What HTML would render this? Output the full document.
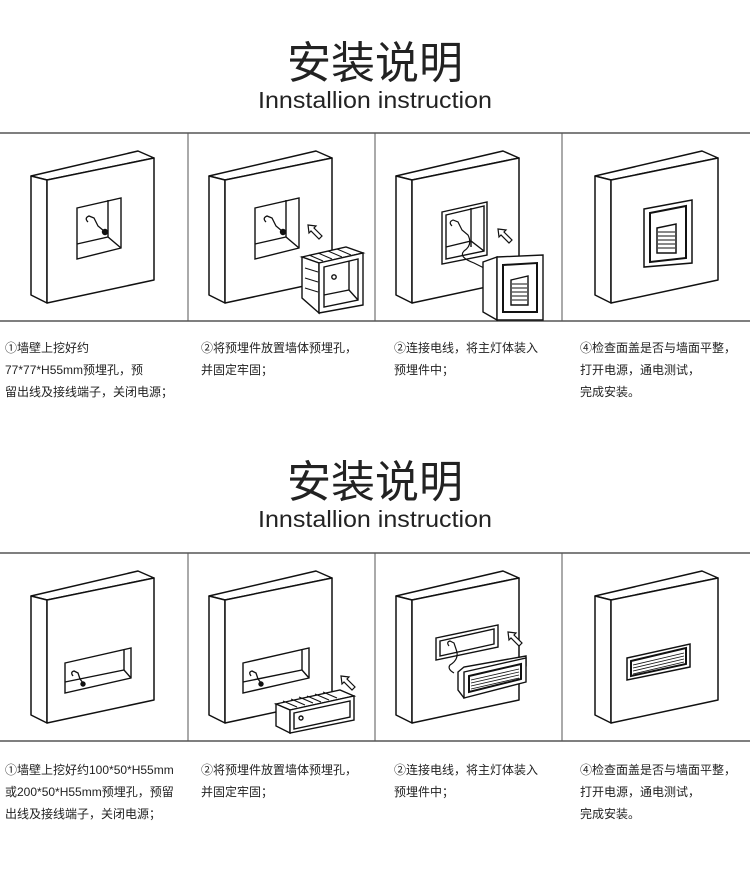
<!DOCTYPE html>
<html><head><meta charset="utf-8"><style>
html,body{margin:0;padding:0;background:#fff;}
svg{display:block;}
text{font-family:"Liberation Sans","Noto Sans CJK SC",sans-serif;fill:#222;}
.t{font-family:"Noto Sans CJK SC","WenQuanYi Zen Hei",sans-serif;}
.s{font-size:12px;font-family:"Liberation Sans","Noto Sans CJK SC",sans-serif;}
</style></head><body>
<svg width="750" height="896" viewBox="0 0 750 896" xmlns="http://www.w3.org/2000/svg">
<defs>
<g id="wall" fill="#fff" stroke="#111" stroke-width="1.5" stroke-linejoin="round">
  <polygon points="31,176 138,151 154,158 47,180"/>
  <polygon points="31,176 47,180 47,303 31,295"/>
  <polygon points="47,180 154,158 154,280 47,303"/>
</g>
<g id="hole1" fill="none" stroke="#111" stroke-width="1.4">
  <polygon points="77,208 121,198 121,248 77,259" fill="#fff"/>
  <polyline points="77,244 108,237 121,248"/>
  <line x1="108" y1="200" x2="108" y2="237"/>
  <path d="M88,222 q-4,-4 1,-6 l5,2 l4,8 l6,5" stroke-width="1.3"/>
  <circle cx="105" cy="232" r="2.5" fill="#111"/>
</g>
<g id="hole2" fill="none" stroke="#111" stroke-width="1.4">
  <polygon points="65,243 131,228 131,258 65,273" fill="#fff"/>
  <polyline points="65,262 124,250 131,258"/>
  <line x1="124" y1="230" x2="124" y2="250"/>
  <path d="M73,256 q-3,-4 1,-5 l4,2 l2,6 l3,4" stroke-width="1.3"/>
  <circle cx="83" cy="264" r="2" fill="#111"/>
</g>
<g id="arrow" fill="#fff" stroke="#111" stroke-width="1.2">
  <polygon points="0,0 8,1 6,3 14,11 11,14 3,6 1,8"/>
</g>
</defs>

<!-- Section 1 -->
<text class="t" x="375" y="78" font-size="44" text-anchor="middle">安装说明</text>
<text x="375" y="108" font-size="23" text-anchor="middle" textLength="234" lengthAdjust="spacingAndGlyphs">Innstallion instruction</text>
<line x1="0" y1="133" x2="750" y2="133" stroke="#555" stroke-width="1.5"/>
<line x1="0" y1="321" x2="750" y2="321" stroke="#555" stroke-width="1.5"/>
<line x1="188" y1="133" x2="188" y2="321" stroke="#555"/>
<line x1="375" y1="133" x2="375" y2="321" stroke="#555"/>
<line x1="562" y1="133" x2="562" y2="321" stroke="#555"/>

<use href="#wall"/><use href="#hole1"/>
<g transform="translate(178,0)"><use href="#wall"/><use href="#hole1"/></g>
<use href="#arrow" transform="translate(308,225)"/>
<g fill="#fff" stroke="#111" stroke-width="1.4">
  <polygon points="302,257 346,247 363,253 319,263"/>
  <polygon points="302,257 319,263 319,313 302,298"/>
  <polygon points="319,263 363,253 363,305 319,313"/>
  <polygon points="324,267 358,259 358,300 324,307"/>
  <polyline points="324,295 349,290 358,300" fill="none"/>
  <line x1="349" y1="261" x2="349" y2="290"/>
  <circle cx="334" cy="277" r="2.2"/>
  <path d="M305,268 l13,4 M305,278 l13,4 M305,288 l13,4 M309,255 l14,6 M318,253 l14,6 M328,251 l14,6 M337,249 l14,6" fill="none" stroke-width="1"/>
</g>

<g transform="translate(365,0)"><use href="#wall"/></g>
<g fill="#fff" stroke="#111" stroke-width="1.4">
  <polygon points="442,212 487,202 487,255 442,264"/>
  <polygon points="446,215 484,206 484,251 446,259"/>
  <line x1="471" y1="208" x2="471" y2="247"/>
  <polyline points="446,247 471,241 484,251" fill="none"/>
  <path d="M452,226 q-4,-4 1,-6 l5,2 l4,8 l6,5 q5,10 -4,16 q-6,6 10,12 l12,6" fill="none" stroke-width="1.2"/>
  <use href="#arrow" transform="translate(498,229)"/>
  <polygon points="483,262 497,257 497,320 483,312"/>
  <polygon points="497,257 543,255 543,320 497,320"/>
  <polygon points="503,265 537,263 537,312 503,312" stroke-width="2"/>
  <polygon points="511,280 528,276 528,305 511,305"/>
  <path d="M512,284h15M512,288h15M512,292h15M512,296h15M512,300h15" stroke-width="1"/>
</g>

<g transform="translate(564,0)"><use href="#wall"/></g>
<g fill="#fff" stroke="#111" stroke-width="1.5">
  <polygon points="644,209 692,200 692,263 644,267"/>
  <polygon points="650,213 686,206 686,258 650,262" stroke-width="2"/>
  <polygon points="657,228 676,224 676,253 657,253"/>
  <path d="M658,232h17M658,236h17M658,240h17M658,244h17M658,248h17" stroke-width="1"/>
</g>

<text class="s" x="5" y="352">①墙壁上挖好约</text>
<text class="s" x="5" y="374">77*77*H55mm预埋孔，预</text>
<text class="s" x="5" y="396">留出线及接线端子，关闭电源；</text>
<text class="s" x="201" y="352">②将预埋件放置墙体预埋孔，</text>
<text class="s" x="201" y="374">并固定牢固；</text>
<text class="s" x="394" y="352">②连接电线，将主灯体装入</text>
<text class="s" x="394" y="374">预埋件中；</text>
<text class="s" x="580" y="352">④检查面盖是否与墙面平整，</text>
<text class="s" x="580" y="374">打开电源，通电测试，</text>
<text class="s" x="580" y="396">完成安装。</text>

<!-- Section 2 -->
<text class="t" x="375" y="497" font-size="44" text-anchor="middle">安装说明</text>
<text x="375" y="527" font-size="23" text-anchor="middle" textLength="234" lengthAdjust="spacingAndGlyphs">Innstallion instruction</text>
<line x1="0" y1="553" x2="750" y2="553" stroke="#555" stroke-width="1.5"/>
<line x1="0" y1="741" x2="750" y2="741" stroke="#555" stroke-width="1.5"/>
<line x1="188" y1="553" x2="188" y2="741" stroke="#555"/>
<line x1="375" y1="553" x2="375" y2="741" stroke="#555"/>
<line x1="562" y1="553" x2="562" y2="741" stroke="#555"/>

<g transform="translate(0,420)">
  <use href="#wall"/><use href="#hole2"/>
  <g transform="translate(178,0)"><use href="#wall"/><use href="#hole2"/></g>
  <use href="#arrow" transform="translate(341,256)"/>
  <g fill="#fff" stroke="#111" stroke-width="1.4">
    <polygon points="276,284 340,270 354,276 290,290"/>
    <polygon points="276,284 290,290 290,313 276,306"/>
    <polygon points="290,290 354,276 354,300 290,313"/>
    <polygon points="294,293 350,281 350,297 294,309"/>
    <circle cx="301" cy="298" r="2"/>
    <path d="M283,281l14,6M291,279l14,6M299,277l14,6M307,276l14,6M315,274l14,6M323,272l14,6" fill="none" stroke-width="1"/>
  </g>
  <g transform="translate(365,0)"><use href="#wall"/></g>
  <g fill="#fff" stroke="#111" stroke-width="1.4">
    <polygon points="436,218 498,205 498,227 436,240"/>
    <polygon points="440,221 494,209 494,224 440,236"/>
    <path d="M449,226 q-3,-4 1,-5 l4,2 l2,6 q4,10 -6,16 q-3,4 4,8" fill="none" stroke-width="1.2"/>
    <use href="#arrow" transform="translate(508,212)"/>
    <polygon points="458,252 464,247 526,236 526,246 464,278 458,270"/>
    <polygon points="464,252 526,238 526,262 464,278"/>
    <polygon points="469,256 521,244 521,259 469,272" stroke-width="2"/>
    <path d="M471,260l48,-11M471,263l48,-11M471,266l48,-11M471,269l48,-11" stroke-width="0.8"/>
  </g>
  <g transform="translate(564,0)"><use href="#wall"/></g>
  <g fill="#fff" stroke="#111" stroke-width="1.5">
    <polygon points="627,238 690,224 690,247 627,260"/>
    <polygon points="631,241 686,228 686,244 631,256" stroke-width="2"/>
    <path d="M633,245l51,-12M633,248l51,-12M633,251l51,-12M633,254l51,-12" stroke-width="0.8"/>
  </g>
</g>

<text class="s" x="5" y="774">①墙壁上挖好约100*50*H55mm</text>
<text class="s" x="5" y="796">或200*50*H55mm预埋孔，预留</text>
<text class="s" x="5" y="818">出线及接线端子，关闭电源；</text>
<text class="s" x="201" y="774">②将预埋件放置墙体预埋孔，</text>
<text class="s" x="201" y="796">并固定牢固；</text>
<text class="s" x="394" y="774">②连接电线，将主灯体装入</text>
<text class="s" x="394" y="796">预埋件中；</text>
<text class="s" x="580" y="774">④检查面盖是否与墙面平整，</text>
<text class="s" x="580" y="796">打开电源，通电测试，</text>
<text class="s" x="580" y="818">完成安装。</text>
</svg>
</body></html>
